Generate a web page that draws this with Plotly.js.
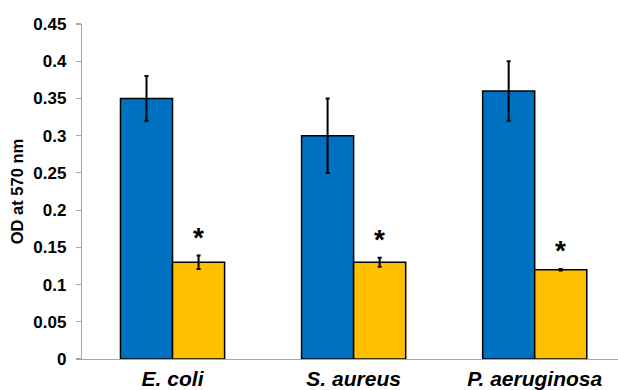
<!DOCTYPE html>
<html>
<head>
<meta charset="utf-8">
<script src="https://cdn.plot.ly/plotly-3.0.1.min.js"></script>
<style>html,body{margin:0;padding:0;background:#fff;}#chart{width:618px;height:390px;}</style>
</head>
<body>
<div id="chart"></div>
<script>
var categories = ["E. coli", "S. aureus", "P. aeruginosa"];
var controlValues = [0.35, 0.30, 0.36];
var controlErrors = [0.03, 0.05, 0.04];
var treatedValues = [0.13, 0.13, 0.12];
var treatedErrors = [0.009, 0.006, 0.001];
var significant = ["*", "*", "*"];
var yTickValues = [0, 0.05, 0.1, 0.15, 0.2, 0.25, 0.3, 0.35, 0.4, 0.45];
var yTickLabels = ["0", "0.05", "0.1", "0.15", "0.2", "0.25", "0.3", "0.35", "0.4", "0.45"];

var catLabels = categories.map(function (c) { return "<i>" + c + "</i>"; });
var xIdx = categories.map(function (c, i) { return i; });

var errStyle = {type: "data", visible: true, color: "#000", thickness: 2, width: 2};

var traces = [
  {
    type: "bar", x: xIdx, y: controlValues, name: "Control",
    marker: {color: "#0070C0", line: {color: "#000", width: 1.5}},
    error_y: Object.assign({array: controlErrors}, errStyle),
    hoverinfo: "y"
  },
  {
    type: "bar", x: xIdx, y: treatedValues, name: "Treated",
    marker: {color: "#FFC000", line: {color: "#000", width: 1.5}},
    error_y: Object.assign({array: treatedErrors}, errStyle),
    hoverinfo: "y"
  }
];

var annotations = significant.map(function (s, i) {
  return {
    x: i, y: treatedValues[i] + treatedErrors[i], xref: "x", yref: "y",
    text: "<b>" + s + "</b>", showarrow: false, xshift: 26, yshift: 1,
    yanchor: "bottom", xanchor: "center",
    font: {family: "Liberation Sans, Arial, sans-serif", size: 28, color: "#000"}
  };
});

var layout = {
  width: 618, height: 390,
  margin: {l: 82, r: 0, t: 24, b: 31, pad: 0},
  paper_bgcolor: "#fff", plot_bgcolor: "#fff",
  showlegend: false,
  barmode: "group", bargap: 0.425, bargroupgap: 0,
  font: {family: "Liberation Sans, Arial, sans-serif", color: "#000"},
  xaxis: {
    range: [-0.5, 2.46], tickvals: xIdx, ticktext: catLabels,
    showline: true, linecolor: "#a6a6a6", linewidth: 1.2,
    ticks: "", showgrid: false, zeroline: false,
    tickfont: {size: 21, weight: "bold", color: "#000"},
    ticklabelstandoff: 1
  },
  yaxis: {
    range: [0, 0.45], tickvals: yTickValues, ticktext: yTickLabels,
    showline: true, linecolor: "#a6a6a6", linewidth: 1.2,
    ticks: "outside", ticklen: 5, tickcolor: "#a6a6a6", tickwidth: 1.2,
    showgrid: false, zeroline: false,
    tickfont: {size: 17, weight: "bold", color: "#000"},
    ticklabelstandoff: 6,
    title: {text: "<b>OD at 570 nm</b>", font: {size: 16.5, weight: "bold", color: "#000"}, standoff: 5}
  },
  annotations: annotations
};

Plotly.newPlot("chart", traces, layout, {displayModeBar: false, staticPlot: true});
</script>
</body>
</html>
